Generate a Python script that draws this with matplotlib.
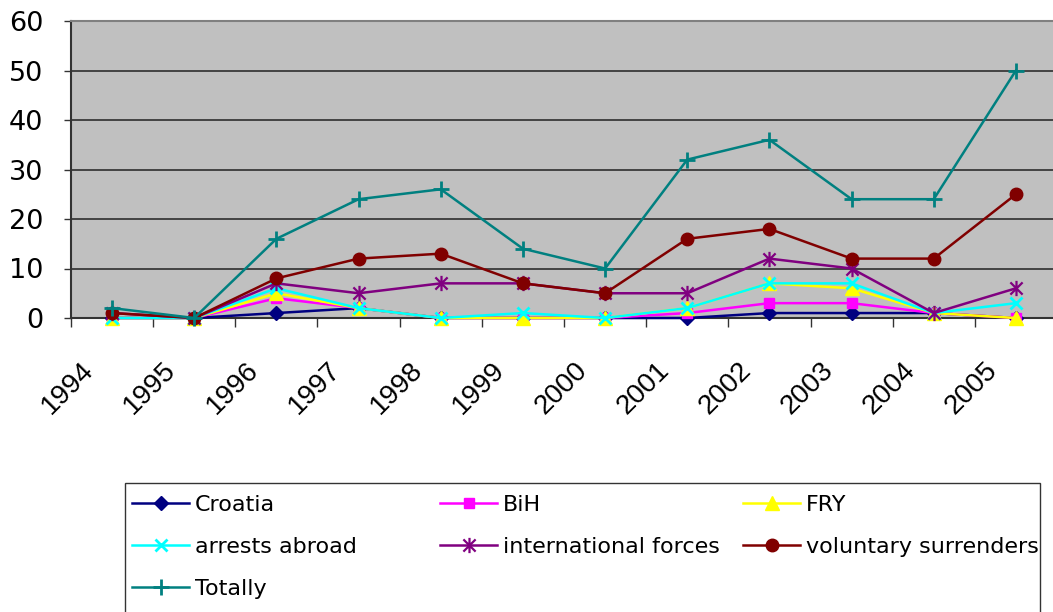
import matplotlib
matplotlib.use("Agg")
import matplotlib.pyplot as plt
from matplotlib.path import Path
from matplotlib.patches import Rectangle
from matplotlib.transforms import ScaledTranslation
import numpy as np

plt.rcParams['font.family'] = ['DejaVu Sans']

years = ["1994", "1995", "1996", "1997", "1998", "1999",
         "2000", "2001", "2002", "2003", "2004", "2005"]
croatia = [0, 0, 1, 2, 0, 0, 0, 0, 1, 1, 1, 0]
bih = [0, 0, 4, 2, 0, 0, 0, 1, 3, 3, 1, 0]
fry = [0, 0, 5, 2, 0, 0, 0, 2, 7, 6, 1, 0]
arrests_abroad = [0, 0, 6, 2, 0, 1, 0, 2, 7, 7, 1, 3]
international_forces = [1, 0, 7, 5, 7, 7, 5, 5, 12, 10, 1, 6]
voluntary_surrenders = [1, 0, 8, 12, 13, 7, 5, 16, 18, 12, 12, 25]
totally = [2, 0, 16, 24, 26, 14, 10, 32, 36, 24, 24, 50]

W, H = 1053, 612
fig = plt.figure(figsize=(W / 100, H / 100), dpi=100)
ax = fig.add_axes([71 / W, 1 - 318 / H, 986 / W, 297 / H])
ax.set_facecolor('#C0C0C0')

star = Path([(0, -1), (0, 1), (-0.8, -0.8), (0.8, 0.8), (-0.8, 0.8), (0.8, -0.8)],
            [Path.MOVETO, Path.LINETO, Path.MOVETO, Path.LINETO, Path.MOVETO, Path.LINETO])

series = [
    ("Croatia", croatia, '#000080', dict(marker='D', ms=7)),
    ("BiH", bih, '#FF00FF', dict(marker='s', ms=7.5)),
    ("FRY", fry, '#FFFF00', dict(marker='^', ms=9.5)),
    ("arrests abroad", arrests_abroad, '#00FFFF', dict(marker='x', ms=9, mew=2)),
    ("international forces", international_forces, '#800080', dict(marker=star, ms=11, mew=1.6)),
    ("voluntary surrenders", voluntary_surrenders, '#800000', dict(marker='o', ms=9)),
    ("Totally", totally, '#008080', dict(marker='+', ms=12, mew=2)),
]

x = np.arange(len(years))
handles = {}
for name, vals, col, mk in series:
    ln, = ax.plot(x, vals, color=col, lw=1.8, mfc=col, mec=col, label=name,
                  clip_on=False, zorder=3, **mk)
    handles[name] = ln

ax.set_xlim(-0.5, len(years) - 0.5)
ax.set_ylim(0, 60)
ax.set_yticks(range(0, 61, 10))
ax.grid(axis='y', color='#222222', lw=1.1)
ax.set_axisbelow(True)

ax.set_xticks(x, labels=years)
ax.set_xticks(np.arange(-0.5, len(years)), minor=True)
ax.tick_params(axis='x', which='major', length=0, pad=35)
ax.tick_params(axis='x', which='minor', length=6.5, width=1, color='#333333', direction='out')
ax.tick_params(axis='y', length=5, width=1, color='#333333', pad=15, labelsize=19.5)
offset = ScaledTranslation(-0.22, 0, fig.dpi_scale_trans)
for lab in ax.get_xticklabels():
    lab.set_fontfamily('Liberation Sans')
    lab.set_fontsize(20)
    lab.set_rotation(45)
    lab.set_ha('right')
    lab.set_va('center')
    lab.set_rotation_mode('anchor')
    lab.set_transform(lab.get_transform() + offset)

ax.spines['right'].set_visible(False)
ax.spines['top'].set_color('#808080')
ax.spines['top'].set_linewidth(1.5)
for side in ['left', 'bottom']:
    ax.spines[side].set_color('#333333')
    ax.spines[side].set_linewidth(1.5)

# legend frame
fig.patches.append(Rectangle((125 / W, -0.05), (1040 - 125) / W, 1 - 483 / H + 0.05,
                             transform=fig.transFigure, facecolor='white',
                             edgecolor='#333333', lw=1.0, zorder=0))

columns = [
    (["Croatia", "arrests abroad", "Totally"], 132),
    (["BiH", "international forces"], 440),
    (["FRY", "voluntary surrenders"], 743),
]
for names, xpix in columns:
    fig.legend([handles[n] for n in names], names, loc='upper left',
               bbox_to_anchor=(xpix / W, 1 - 495 / H), frameon=False,
               fontsize=16, handlelength=2.57, handletextpad=0.27,
               labelspacing=0.99, borderpad=0, borderaxespad=0, numpoints=1)

fig.savefig('out.png', dpi=100)
